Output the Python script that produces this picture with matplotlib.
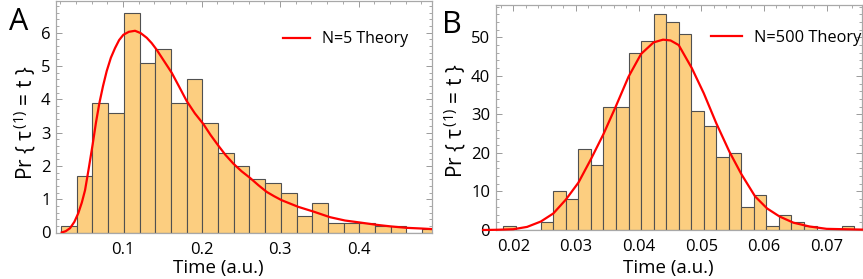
import matplotlib
matplotlib.use("Agg")
import matplotlib.pyplot as plt
from matplotlib.ticker import MultipleLocator

plt.rcParams['font.family'] = ['Open Sans', 'DejaVu Sans']
plt.rcParams['mathtext.fontset'] = 'custom'
plt.rcParams['mathtext.rm'] = 'Open Sans'
plt.rcParams['mathtext.it'] = 'Open Sans:italic'

# ---------------- data: panel A (N=5) ----------------
a_bin_start = 0.021
a_bin_width = 0.02
a_heights = [0.2, 1.7, 3.9, 3.6, 6.6, 5.1, 5.5, 3.9, 4.6, 3.3, 2.4, 2.0,
             1.6, 1.5, 1.2, 0.5, 0.9, 0.3, 0.3, 0.3, 0.2, 0.2, 0.0, 0.1]
a_curve_x = [0.0219, 0.027, 0.0325, 0.038, 0.043, 0.0475, 0.0516, 0.0565, 0.0614,
             0.0655, 0.0698, 0.0745, 0.0792, 0.0845, 0.0898, 0.095, 0.1004, 0.1075,
             0.1153, 0.1225, 0.1302, 0.1365, 0.1429, 0.152, 0.162, 0.1715, 0.1811,
             0.1915, 0.2023, 0.2115, 0.2214, 0.2305, 0.2405, 0.251, 0.2618, 0.2725,
             0.283, 0.2925, 0.3021, 0.3233, 0.3424, 0.3637, 0.3828, 0.4019, 0.4232,
             0.4423, 0.4614, 0.48, 0.4953]
a_curve_y = [0.0, 0.04, 0.13, 0.32, 0.58, 0.9, 1.27, 1.95, 2.66, 3.3, 3.88, 4.4,
             4.85, 5.25, 5.54, 5.78, 5.94, 6.03, 6.06, 5.99, 5.85, 5.69, 5.49, 5.16,
             4.80, 4.38, 3.95, 3.58, 3.26, 2.93, 2.61, 2.33, 2.07, 1.84, 1.64, 1.42,
             1.22, 1.09, 0.97, 0.77, 0.63, 0.46, 0.36, 0.30, 0.23, 0.18, 0.14, 0.12, 0.10]

# ---------------- data: panel B (N=500) ----------------
b_bin_start = 0.0184
b_bin_width = 0.002
b_heights = [1, 0, 0, 2, 10, 8, 21, 17, 32, 32, 46, 49, 56, 54, 51, 31, 27, 19,
             20, 6, 9, 1, 4, 2, 1, 0, 0, 1]
b_curve_x = [0.0152, 0.0172, 0.02, 0.0222, 0.0244, 0.0264, 0.0284, 0.0304, 0.0324,
             0.0344, 0.0364, 0.0384, 0.0404, 0.0424, 0.0439, 0.0451, 0.0464, 0.0485,
             0.0504, 0.0524, 0.0545, 0.0564, 0.0586, 0.0605, 0.0625, 0.0647, 0.0673,
             0.070, 0.0757]
b_curve_y = [0.0, 0.05, 0.2, 0.8, 2.2, 4.3, 7.9, 12.3, 18.4, 24.9, 32.2, 39.8,
             45.7, 48.7, 49.4, 49.2, 48.0, 42.0, 35.5, 27.7, 20.3, 14.5, 8.7, 5.6,
             3.5, 1.9, 0.9, 0.3, 0.1]

labels = ["N=5 Theory", "N=500 Theory"]
panel_letters = ["A", "B"]
ylabel = r"Pr { τ$^{\,(1)}$ = t }"
xlabel = "Time (a.u.)"

# ---------------- figure ----------------
W, H = 863, 279
fig = plt.figure(figsize=(W / 100, H / 100), dpi=100)


def px_axes(l, t, r, b):
    return fig.add_axes([l / W, 1 - b / H, (r - l) / W, (b - t) / H])


bar_fc = '#FCCE80'
bar_ec = '#505050'
spine_c = '#a8a8a8'
red = '#FF0000'
TICK_FS = 12


def style(ax):
    for s in ax.spines.values():
        s.set_color(spine_c)
        s.set_linewidth(0.9)
    ax.tick_params(which='both', direction='in', colors='#9a9a9a',
                   labelcolor='black', labelsize=TICK_FS, top=True, right=True,
                   bottom=False, labelbottom=True)
    ax.tick_params(which='major', length=4, width=0.7)
    ax.tick_params(which='minor', length=2.3, width=0.6)
    ax.tick_params(axis='x', pad=6.8)
    ax.tick_params(axis='y', pad=4)


# Panel A
axA = px_axes(56, 0.5, 432.3, 232.5)
a_edges = [a_bin_start + i * a_bin_width for i in range(len(a_heights))]
axA.bar(a_edges, a_heights, width=a_bin_width, align='edge', color=bar_fc,
        edgecolor=bar_ec, linewidth=0.8, zorder=2)
axA.plot(a_curve_x, a_curve_y, color=red, lw=1.6, zorder=3, label=labels[0])
axA.set_xlim(0.0146, 0.494)
axA.set_ylim(0, 6.97)
axA.xaxis.set_major_locator(MultipleLocator(0.1))
axA.xaxis.set_minor_locator(MultipleLocator(0.02))
axA.yaxis.set_major_locator(MultipleLocator(1))
axA.yaxis.set_minor_locator(MultipleLocator(0.2))
axA.set_xticks([0.1, 0.2, 0.3, 0.4])
axA.set_xticklabels(["0.1", "0.2", "0.3", "0.4"])
style(axA)
axA.legend(loc='center left', bbox_to_anchor=(283 / W, 1 - 39.5 / H),
           bbox_transform=fig.transFigure, frameon=False, fontsize=11.5,
           handlelength=1.7, handletextpad=0.75, borderpad=0, borderaxespad=0)

# Panel B
axB = px_axes(495.7, 5, 862.3, 230)
b_edges = [b_bin_start + i * b_bin_width for i in range(len(b_heights))]
axB.bar(b_edges, b_heights, width=b_bin_width, align='edge', color=bar_fc,
        edgecolor=bar_ec, linewidth=0.8, zorder=2)
axB.plot(b_curve_x, b_curve_y, color=red, lw=1.6, zorder=3, label=labels[1],
         clip_on=False)
axB.set_xlim(0.0172, 0.0757)
axB.set_ylim(0, 58.4)
axB.xaxis.set_major_locator(MultipleLocator(0.01))
axB.xaxis.set_minor_locator(MultipleLocator(0.002))
axB.yaxis.set_major_locator(MultipleLocator(10))
axB.yaxis.set_minor_locator(MultipleLocator(2))
axB.set_xticks([0.02, 0.03, 0.04, 0.05, 0.06, 0.07])
axB.set_xticklabels(["0.02", "0.03", "0.04", "0.05", "0.06", "0.07"])
style(axB)
axB.legend(loc='center left', bbox_to_anchor=(711 / W, 1 - 37.5 / H),
           bbox_transform=fig.transFigure, frameon=False, fontsize=11.8,
           handlelength=1.9, handletextpad=0.75, borderpad=0, borderaxespad=0)

# labels
for (xc, yc) in [(25, 123), (455, 121)]:
    fig.text(xc / W, 1 - yc / H, ylabel, rotation=90, ha='center', va='center',
             fontsize=15)
for (xc, yb) in [(218, 273), (668, 273)]:
    fig.text(xc / W, 1 - yb / H, xlabel, ha='center', va='baseline', fontsize=13.5)

fig.text(9 / W, 1 - 30 / H, panel_letters[0], fontsize=22, ha='left', va='baseline')
fig.text(442 / W, 1 - 33 / H, panel_letters[1], fontsize=22, ha='left', va='baseline')

fig.savefig("out.png", dpi=100)
